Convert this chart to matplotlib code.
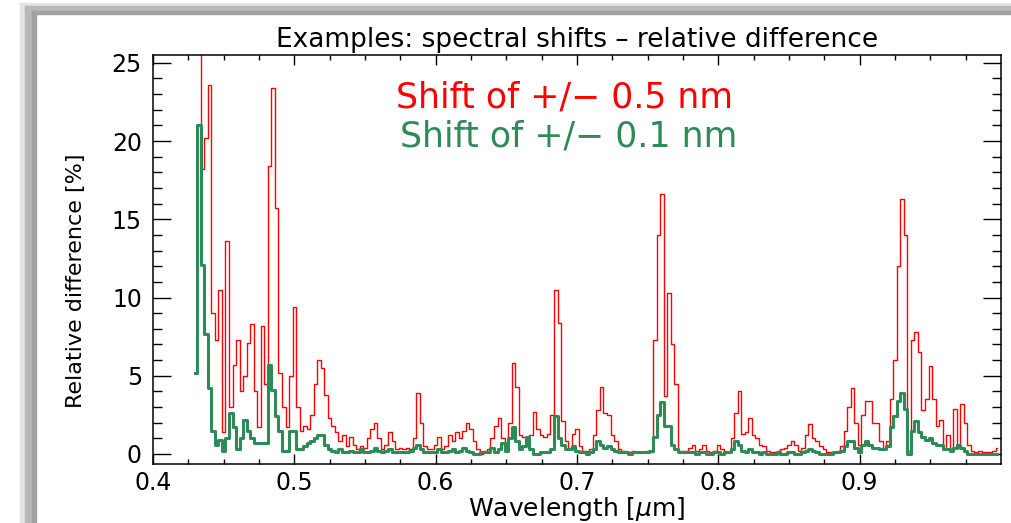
import numpy as np
import matplotlib.pyplot as plt
from matplotlib.patches import Rectangle

# ---- Values (relative difference, %) ----

# spectral sampling of the two curves
wl_start = 0.430
wl_step = 0.0025

# shift of +/- 0.5 nm (red)
shift_05nm = [
    np.nan, 25.9, 18.2, 20.2, 23.6, 9.0, 7.3, 10.5, 1.4, 13.6,
    3.0, 5.7, 7.3, 4.0, 5.0, 7.1, 8.3, 4.0, 1.7, 8.2,
    4.5, 18.4, 23.4, 15.7, 5.2, 3.0, 1.7, 5.0, 9.4, 3.0,
    1.5, 1.8, 1.6, 2.5, 4.5, 6.0, 5.5, 3.8, 2.3, 1.8,
    1.4, 0.8, 1.2, 0.5, 1.1, 0.6, 0.3, 0.5, 0.4, 1.0,
    1.6, 2.0, 1.0, 0.3, 0.6, 1.4, 0.8, 0.3, 0.4, 0.3,
    0.4, 0.3, 1.0, 3.9, 2.0, 0.5, 0.3, 0.3, 0.6, 1.1,
    0.3, 0.5, 1.2, 0.8, 1.4, 1.0, 1.5, 2.0, 1.6, 0.8,
    0.3, 0.0, 0.2, 0.3, 1.0, 1.8, 2.3, 1.0, 0.5, 2.0,
    5.8, 4.3, 1.2, 1.1, 1.0, 1.2, 2.7, 1.6, 1.2, 1.1,
    1.3, 2.5, 10.5, 8.4, 2.1, 0.8, 0.4, 1.3, 1.6, 0.5,
    0.2, 0.2, 0.3, 1.2, 2.8, 4.3, 2.6, 2.5, 1.2, 0.8,
    0.3, 0.2, 0.1, 0.1, 0.2, 0.1, 0.1, 0.1, 0.2, 0.1,
    7.3, 14.0, 16.6, 3.7, 10.3, 7.0, 4.5, 0.2, 0.2, 0.2,
    0.4, 0.6, 0.2, 0.3, 0.6, 0.2, 0.1, 0.2, 0.6, 0.3,
    0.1, 0.1, 1.0, 2.6, 4.0, 1.3, 1.4, 2.3, 1.2, 1.0,
    0.6, 0.5, 0.2, 0.1, 0.1, 0.2, 0.3, 0.4, 0.6, 0.8,
    0.6, 0.2, 0.4, 1.2, 1.9, 1.0, 0.8, 0.5, 0.3, 0.1,
    0.1, 0.1, 0.2, 0.5, 1.5, 3.0, 4.2, 2.0, 0.6, 2.5,
    3.4, 3.4, 2.0, 2.0, 0.8, 0.4, 0.8, 3.5, 6.0, 12.0,
    16.3, 14.0, 0.2, 7.3, 7.8, 6.5, 2.8, 3.5, 5.6, 3.5,
    1.8, 2.2, 0.3, 1.2, 0.3, 2.9, 0.6, 3.2, 2.0, 0.6,
    0.2, 0.1, 0.2, 0.1, 0.1, 0.1, 0.2, 0.4,
]

# shift of +/- 0.1 nm (green)
shift_01nm = [
    5.2, 21.0, 12.1, 7.7, 4.2, 1.5, 0.6, 0.9, 0.2, 1.0,
    2.6, 1.7, 0.3, 1.0, 2.2, 1.5, 1.0, 0.7, 0.7, 0.7,
    0.7, 5.7, 4.1, 2.4, 1.5, 0.2, 0.2, 1.5, 1.5, 0.3,
    0.3, 0.5, 0.7, 0.8, 1.0, 1.2, 1.2, 0.6, 0.3, 0.2,
    0.1, 0.3, 0.1, 0.1, 0.2, 0.1, 0.1, 0.3, 0.1, 0.1,
    0.2, 0.4, 0.2, 0.1, 0.2, 0.3, 0.1, 0.1, 0.1, 0.1,
    0.1, 0.2, 0.4, 0.6, 0.3, 0.1, 0.1, 0.1, 0.1, 0.3,
    0.1, 0.1, 0.2, 0.3, 0.1, 0.2, 0.4, 0.2, 0.1, 0.0,
    0.0, 0.1, 0.1, 0.1, 0.4, 0.1, 0.3, 0.7, 0.2, 1.0,
    1.7, 0.8, 0.3, 0.5, 1.1, 0.3, 0.0, 0.0, 0.1, 0.1,
    0.1, 0.3, 2.4, 1.0, 0.6, 0.3, 0.3, 0.5, 0.2, 0.1,
    0.1, 0.0, 0.1, 0.3, 0.8, 0.6, 0.4, 0.5, 0.3, 0.2,
    0.1, 0.1, 0.1, 0.0, 0.1, 0.1, 0.1, 0.1, 0.1, 0.2,
    1.1, 2.5, 3.3, 1.8, 1.8, 0.6, 0.3, 0.1, 0.1, 0.1,
    0.1, 0.1, 0.0, 0.1, 0.1, 0.0, 0.0, 0.1, 0.1, 0.0,
    0.1, 0.1, 0.3, 0.8, 0.6, 0.2, 0.1, 0.3, 0.1, 0.1,
    0.0, 0.1, 0.0, 0.0, 0.0, 0.1, 0.0, 0.0, 0.1, 0.1,
    0.0, 0.0, 0.1, 0.2, 0.3, 0.2, 0.1, 0.0, 0.0, 0.0,
    0.0, 0.1, 0.1, 0.2, 0.5, 0.8, 0.8, 0.4, 0.1, 0.6,
    0.8, 0.6, 0.4, 0.4, 0.3, 0.3, 0.5, 1.7, 2.4, 3.4,
    3.9, 2.9, 0.0, 1.5, 2.1, 1.4, 1.1, 0.9, 1.0, 0.7,
    0.6, 0.6, 0.3, 0.3, 0.2, 0.4, 0.6, 0.4, 0.2, 0.0,
    0.0, 0.0, 0.0, 0.0, 0.0, 0.0, 0.0, 0.0,
]

x_ticks = [0.4, 0.5, 0.6, 0.7, 0.8, 0.9]
x_tick_labels = ["0.4", "0.5", "0.6", "0.7", "0.8", "0.9"]
y_ticks = [0, 5, 10, 15, 20, 25]
y_tick_labels = ["0", "5", "10", "15", "20", "25"]

series_labels = ["Shift of +/\u2212 0.5 nm", "Shift of +/\u2212 0.1 nm"]
title = "Examples: spectral shifts \u2013 relative difference"

RED = "#ff0000"
GREEN = "#2e8b57"

W, H = 1012, 523


def px(x, y):
    """pixel (from top-left) -> figure fraction"""
    return x / W, 1 - y / H


def draw_frame(fig):
    # grey window border on the left and top of the screenshot
    bands = [("#e4e4e4", 20, 25, 3, 6), ("#b8b8b8", 25, 32, 6, 11), ("#a2a2a2", 32, 36, 11, 14)]
    for color, x0, x1, y0, y1 in bands:
        fig.patches.append(Rectangle((x0 / W, 0), (x1 - x0) / W, 1 - y0 / H,
                                     transform=fig.transFigure, color=color, zorder=0))
        fig.patches.append(Rectangle((x0 / W, 1 - y1 / H), 1 - x0 / W, (y1 - y0) / H,
                                     transform=fig.transFigure, color=color, zorder=0))


fig = plt.figure(figsize=(W / 100, H / 100), dpi=100)
draw_frame(fig)

left, top = px(153, 55)
right, bottom = px(1001, 464)
ax = fig.add_axes([left, bottom, right - left, top - bottom])

wl = wl_start + wl_step * np.arange(len(shift_05nm))
ax.plot(wl, shift_05nm, drawstyle="steps-mid", color=RED, lw=1.0)
ax.plot(wl, shift_01nm, drawstyle="steps-mid", color=GREEN, lw=2.2)

ax.set_xlim(0.4, 1.0)
ax.set_ylim(-0.64, 25.5)

ax.set_xticks(x_ticks, x_tick_labels, fontsize=17)
ax.set_xticks(np.arange(0.4, 1.0, 0.025), minor=True)
ax.set_yticks(y_ticks, y_tick_labels, fontsize=17)
ax.set_yticks(np.arange(0, 26, 1), minor=True)

ax.tick_params(which="both", direction="in", top=True, right=True, width=1, color="black")
ax.tick_params(axis="x", which="major", length=7, pad=5)
ax.tick_params(axis="x", which="minor", length=3.5)
ax.tick_params(axis="y", which="major", length=13, pad=8)
ax.tick_params(axis="y", which="minor", length=6.5)
for s in ax.spines.values():
    s.set_linewidth(1.1)

ax.set_title(title, fontsize=19, pad=6)
ax.set_xlabel("Wavelength [$\\mu$m]", fontsize=18)
ax.xaxis.set_label_coords(0.5, -0.075)
ax.set_ylabel("Relative difference [%]", fontsize=16)
ax.yaxis.set_label_coords(-0.079, 0.447)

# in-plot legend text
fig.text(*px(565, 108), series_labels[0], color=RED, fontsize=25, ha="center", va="baseline")
fig.text(*px(569, 146), series_labels[1], color=GREEN, fontsize=25, ha="center", va="baseline")

fig.savefig("out.png", dpi=100)
